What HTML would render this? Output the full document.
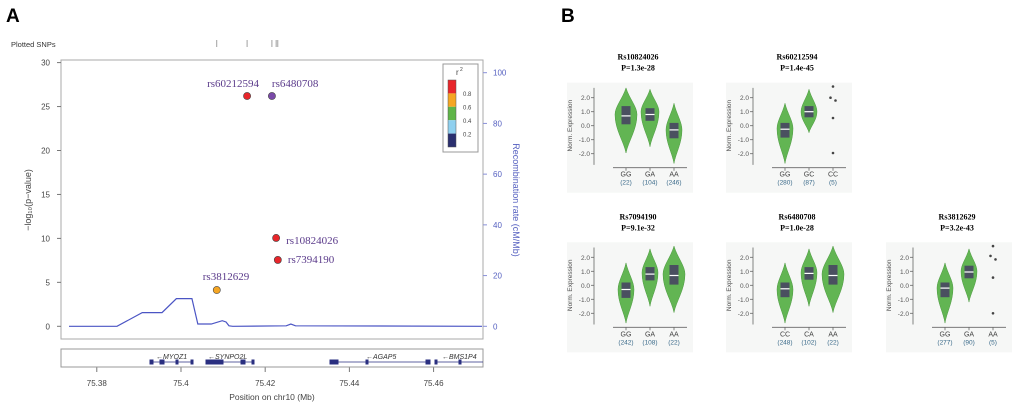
<!DOCTYPE html>
<html><head><meta charset="utf-8"><style>
html,body{margin:0;padding:0;background:#fff;}
svg{display:block;font-family:"Liberation Sans",Arial,sans-serif;}
</style></head><body>
<svg id="fig" width="1020" height="408" viewBox="0 0 1020 408">
<text x="6" y="22" font-size="19" font-weight="bold">A</text>
<text x="561" y="22" font-size="19" font-weight="bold">B</text>
<text x="11" y="47" font-size="7.5" fill="#333">Plotted SNPs</text>
<g id="snpTicks"></g>
<rect x="61" y="60" width="422" height="279" fill="none" stroke="#aaa" stroke-width="1"/>
<g id="axes"></g>
<text transform="translate(31,200) rotate(-90)" text-anchor="middle" font-size="9" fill="#444">−log₁₀(p−value)</text>
<text transform="translate(513,200) rotate(90)" text-anchor="middle" font-size="9" fill="#5560c0">Recombination rate (cM/Mb)</text>
<text x="272" y="400" text-anchor="middle" font-size="8.5" fill="#444">Position on chr10 (Mb)</text>
<polyline id="recomb" fill="none" stroke="#4b55c4" stroke-width="1.2"/>
<g id="snps"></g>
<g>
<rect x="443" y="64" width="35" height="88" fill="#fff" stroke="#999"/>
<text x="456" y="75" font-size="8" fill="#444">r</text><text x="460" y="71" font-size="5" fill="#444">2</text>
<rect x="448" y="80" width="8" height="13.4" fill="#e8262b"/>
<rect x="448" y="93.4" width="8" height="13.4" fill="#f5a623"/>
<rect x="448" y="106.8" width="8" height="13.4" fill="#5fb548"/>
<rect x="448" y="120.2" width="8" height="13.4" fill="#8fd0ef"/>
<rect x="448" y="133.6" width="8" height="13.4" fill="#2a2f6e"/>
<rect x="448" y="80" width="8" height="67" fill="none" stroke="#555" stroke-width="0.5"/>
<text x="463" y="96" font-size="6" fill="#444">0.8</text>
<text x="463" y="109.5" font-size="6" fill="#444">0.6</text>
<text x="463" y="123" font-size="6" fill="#444">0.4</text>
<text x="463" y="136.5" font-size="6" fill="#444">0.2</text>
</g>
<rect x="61" y="349" width="422" height="18" fill="none" stroke="#999"/>
<g fill="#2a2f80" stroke="#2a2f80" font-size="7" font-style="italic">
<line x1="150" y1="362" x2="193" y2="362" stroke-width="0.8"/><rect x="150" y="360" width="3" height="4"/><rect x="160" y="360" width="4" height="4"/><rect x="176" y="360" width="2" height="4"/><rect x="191" y="360" width="2" height="4"/>
<text x="156" y="359" stroke="none" fill="#333">←MYOZ1</text>
<line x1="206" y1="362" x2="254" y2="362" stroke-width="0.8"/><rect x="206" y="360" width="17" height="4"/><rect x="241" y="360" width="4" height="4"/><rect x="252" y="360" width="2" height="4"/>
<text x="208" y="359" stroke="none" fill="#333">←SYNPO2L</text>
<line x1="330" y1="362" x2="430" y2="362" stroke-width="0.8"/><rect x="330" y="360" width="8" height="4"/><rect x="366" y="360" width="2" height="4"/><rect x="426" y="360" width="4" height="4"/>
<text x="366" y="359" stroke="none" fill="#333">←AGAP5</text>
<line x1="435" y1="362" x2="483" y2="362" stroke-width="0.8"/><rect x="435" y="360" width="2" height="4"/><rect x="459" y="360" width="2" height="4"/>
<text x="442" y="359" stroke="none" fill="#333">←BMS1P4</text>
</g>
<g id="violins"></g>
</svg>
<script>
const NS="http://www.w3.org/2000/svg";
const snpNames=["rs60212594","rs6480708","rs10824026","rs7394190","rs3812629"];
const snpPos=[75.4157,75.4216,75.4226,75.4230,75.4085];
const snpLogP=[26.2,26.2,10.05,7.55,4.13];
const snpColors=["#e8262b","#7a4aa8","#e8262b","#e8262b","#f5a623"];
const recPos=[75.3734,75.3848,75.3908,75.3955,75.3989,75.4026,75.4040,75.4072,75.4098,75.4107,75.4114,75.4123,75.4250,75.4261,75.4272,75.4715];
const recRate=[0,0,5.4,5.4,10.9,10.9,0.9,0.9,2.2,1.7,0.2,0,0.2,0.9,0.2,0];
const xTicks=[75.38,75.4,75.42,75.44,75.46];
const yTicks=[0,5,10,15,20,25,30];
const rTicks=[0,20,40,60,80,100];
const X=v=>61+(v-75.3715)/0.02*84.2;
const Y=v=>326.3-v*8.79;
const R=v=>326.3-v*2.536;
function mk(tag,attrs,parent,txt){const e=document.createElementNS(NS,tag);for(const k in attrs)e.setAttribute(k,attrs[k]);if(txt!==undefined)e.textContent=txt;parent.appendChild(e);return e;}
const ax=document.getElementById('axes');
yTicks.forEach(t=>{mk('line',{x1:57,x2:61,y1:Y(t),y2:Y(t),stroke:'#777'},ax);
 const e=mk('text',{x:50,y:Y(t)+3,'text-anchor':'end','font-size':8,fill:'#444'},ax,String(t));
 
 });
rTicks.forEach(t=>{mk('line',{x1:483,x2:487,y1:R(t),y2:R(t),stroke:'#8890d8'},ax);
 const e=mk('text',{x:493,y:R(t)+3,'font-size':8,fill:'#5560c0'},ax,String(t));
 
 });
xTicks.forEach(t=>{mk('line',{x1:X(t),x2:X(t),y1:367,y2:372,stroke:'#777'},ax);
 const e=mk('text',{x:X(t),y:386,'text-anchor':'middle','font-size':8,fill:'#444'},ax,String(t));
 
 });
document.getElementById('recomb').setAttribute('points',recPos.map((p,i)=>X(p)+','+R(recRate[i])).join(' '));
const tk=document.getElementById('snpTicks');
snpPos.forEach(p=>mk('line',{x1:X(p),x2:X(p),y1:40,y2:47,stroke:'#888','stroke-width':0.8},tk));
const sg=document.getElementById('snps');
const labOff=[[-40,-12],[0,-12],[10,3],[10,0],[-14,-13]];
snpPos.forEach((p,i)=>{const c=mk('circle',{cx:X(p),cy:Y(snpLogP[i]),r:3.6,fill:snpColors[i],stroke:'#444','stroke-width':0.6},sg);
 
 
 const t=mk('text',{x:X(p)+labOff[i][0],y:Y(snpLogP[i])+labOff[i][1]+3,'font-size':11,fill:'#5a3a8a','font-family':'Liberation Serif,serif'},sg,snpNames[i]);
 
 });
const panelTitles=["Rs10824026","Rs60212594","Rs7094190","Rs6480708","Rs3812629"];
const panelP=["P=1.3e-28","P=1.4e-45","P=9.1e-32","P=1.0e-28","P=3.2e-43"];
const panelAxisX=[594,753,594,753,913];
const panelZeroY=[125.7,125.7,285.3,285.3,285.3];
const panelGenos=[["GG","GA","AA"],["GG","GC","CC"],["GG","GA","AA"],["CC","CA","AA"],["GG","GA","AA"]];
const panelCounts=[[22,104,246],[280,87,5],[242,108,22],[248,102,22],[277,90,5]];
const panelViolins=[
 [[-1.95,2.7,0.1,0.7,1.4,0.8,11],[-1.5,2.6,0.35,0.8,1.25,1.0,9],[-2.7,1.6,-0.9,-0.3,0.2,-0.3,8]],
 [[-2.7,1.6,-0.85,-0.25,0.2,-0.2,8],[-0.5,2.6,0.6,1.0,1.4,1.0,8],null],
 [[-2.7,1.6,-0.9,-0.3,0.2,-0.3,8],[-1.5,2.6,0.35,0.8,1.3,0.9,8],[-1.95,2.8,0.05,0.7,1.45,0.8,11]],
 [[-2.7,1.6,-0.85,-0.25,0.2,-0.3,8],[-1.5,2.6,0.4,0.85,1.3,0.9,8],[-1.95,2.8,0.05,0.7,1.45,0.8,11]],
 [[-2.7,1.6,-0.85,-0.2,0.2,-0.2,8],[-1.2,2.6,0.5,0.95,1.4,1.0,8],null]];
const panelPoints=[[],[2.8,2.0,1.8,0.55,-1.95],[],[],[2.8,2.1,1.85,0.55,-2.0]];
const vg=document.getElementById('violins');
panelTitles.forEach((title,pi)=>{
 const ax0=panelAxisX[pi],z=panelZeroY[pi];const VY=v=>z-v*14;
 const catX=[ax0+32,ax0+56,ax0+80];
 const g=mk('g',{},vg);
 
 
 mk('rect',{x:ax0-27,y:z-43,width:126,height:110,fill:'#f6f7f6'},g);
 mk('text',{x:ax0+44,y:z-66,'text-anchor':'middle','font-size':8,'font-weight':'bold','font-family':'Liberation Serif,serif'},g,title);
 mk('text',{x:ax0+44,y:z-55,'text-anchor':'middle','font-size':8,'font-weight':'bold','font-family':'Liberation Serif,serif'},g,panelP[pi]);
 mk('line',{x1:ax0,x2:ax0,y1:VY(2.7),y2:VY(-2.8),stroke:'#666','stroke-width':0.8},g);
 [2,1,0,-1,-2].forEach(t=>{mk('line',{x1:ax0-3,x2:ax0,y1:VY(t),y2:VY(t),stroke:'#666','stroke-width':0.8},g);
  mk('text',{x:ax0-4,y:VY(t)+2.5,'text-anchor':'end','font-size':6.5,fill:'#555'},g,t.toFixed(1));});
 mk('text',{transform:`translate(${ax0-22},${z}) rotate(-90)`,'text-anchor':'middle','font-size':6.5,fill:'#555'},g,'Norm. Expression');
 mk('line',{x1:ax0+19,x2:ax0+93,y1:z+42,y2:z+42,stroke:'#666','stroke-width':0.8},g);
 catX.forEach((cx,ci)=>{
  mk('line',{x1:cx,x2:cx,y1:z+42,y2:z+45,stroke:'#666','stroke-width':0.8},g);
  mk('text',{x:cx,y:z+51,'text-anchor':'middle','font-size':7,fill:'#444'},g,panelGenos[pi][ci]);
  mk('text',{x:cx,y:z+59,'text-anchor':'middle','font-size':6.5,fill:'#3a6a8a'},g,'('+panelCounts[pi][ci]+')');
  const v=panelViolins[pi][ci];
  if(v){const [mn,mx,q1,md,q3,pk,hw]=v;const t=VY(mx),b=VY(mn),p=VY(pk);
   const d=`M${cx},${t} C${cx+hw*0.3},${t+(p-t)*0.4} ${cx+hw},${p-(p-t)*0.3} ${cx+hw},${p} C${cx+hw},${p+(b-p)*0.4} ${cx+hw*0.2},${b-(b-p)*0.3} ${cx},${b} C${cx-hw*0.2},${b-(b-p)*0.3} ${cx-hw},${p+(b-p)*0.4} ${cx-hw},${p} C${cx-hw},${p-(p-t)*0.3} ${cx-hw*0.3},${t+(p-t)*0.4} ${cx},${t}Z`;
   const pa=mk('path',{d:d,fill:'#62b553',stroke:'#4c9a40','stroke-width':0.5},g);
   
   
   mk('rect',{x:cx-4.5,y:VY(q3),width:9,height:VY(q1)-VY(q3),fill:'#4a5060'},g);
   mk('line',{x1:cx-4.5,x2:cx+4.5,y1:VY(md),y2:VY(md),stroke:'#fff','stroke-width':1.2},g);
  } else {
   panelPoints[pi].forEach((pv,k)=>{const c=mk('circle',{cx:cx+(k===1?-2.5:(k===2?2.5:0)),cy:VY(pv),r:1.3,fill:'#444'},g);
    
    });
  }
 });
});
</script>
</body></html>
